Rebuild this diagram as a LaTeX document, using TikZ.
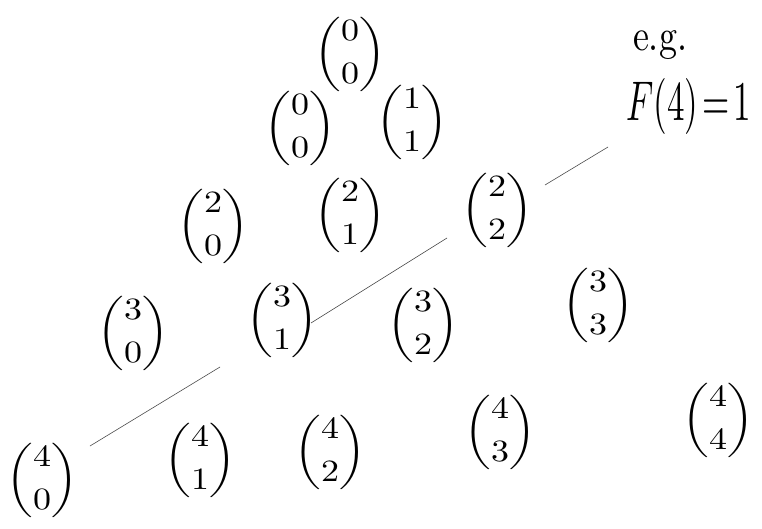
\documentclass[tikz,border=0pt]{standalone}
\usepackage{amsmath}
\usepackage{graphicx}
\newcommand{\bn}[2]{\scalebox{3.6}[3.1]{$\displaystyle\binom{#1}{#2}$}}
\begin{document}
\begin{tikzpicture}[x=1pt,y=-1pt,
  bin/.style={inner sep=0pt},
  lbl/.style={inner sep=0pt},
  ln/.style={draw=black!70, line width=0.6pt}]
\useasboundingbox (0,0) rectangle (762,529);
% row 0
\node[bin] (b00) at (350,54) {\bn{0}{0}};
% row 1
\node[bin] (b10) at (300,128) {\bn{0}{0}};
\node[bin] (b11) at (412,122) {\bn{1}{1}};
% row 2
\node[bin] (b20) at (213,226) {\bn{2}{0}};
\node[bin] (b21) at (350,215) {\bn{2}{1}};
\node[bin] (b22) at (497,210) {\bn{2}{2}};
% row 3
\node[bin] (b30) at (133,333) {\bn{3}{0}};
\node[bin] (b31) at (282,320) {\bn{3}{1}};
\node[bin] (b32) at (423,325) {\bn{3}{2}};
\node[bin] (b33) at (598,305) {\bn{3}{3}};
% row 4
\node[bin] (b40) at (42,480) {\bn{4}{0}};
\node[bin] (b41) at (200,460) {\bn{4}{1}};
\node[bin] (b42) at (330,452) {\bn{4}{2}};
\node[bin] (b43) at (500,432) {\bn{4}{3}};
\node[bin] (b44) at (718,420) {\bn{4}{4}};
% labels
\node[lbl] (eg) at (660,45) {\scalebox{3.6}[4.4]{e.g.}};
\node[lbl, anchor=west] (f4) at (626,107) {\scalebox{3.5}[5.6]{$F(4)\!=\!1$}};
% diagonal lines
\coordinate (p1) at (545,185);
\coordinate (p2) at (608,147);
\coordinate (p3) at (447,238);
\coordinate (p4) at (311,323);
\coordinate (p5) at (220,367);
\coordinate (p6) at (90,446);
\draw[ln] (p1) -- (p2);
\draw[ln] (p3) -- (p4);
\draw[ln] (p5) -- (p6);
\end{tikzpicture}
\end{document}
